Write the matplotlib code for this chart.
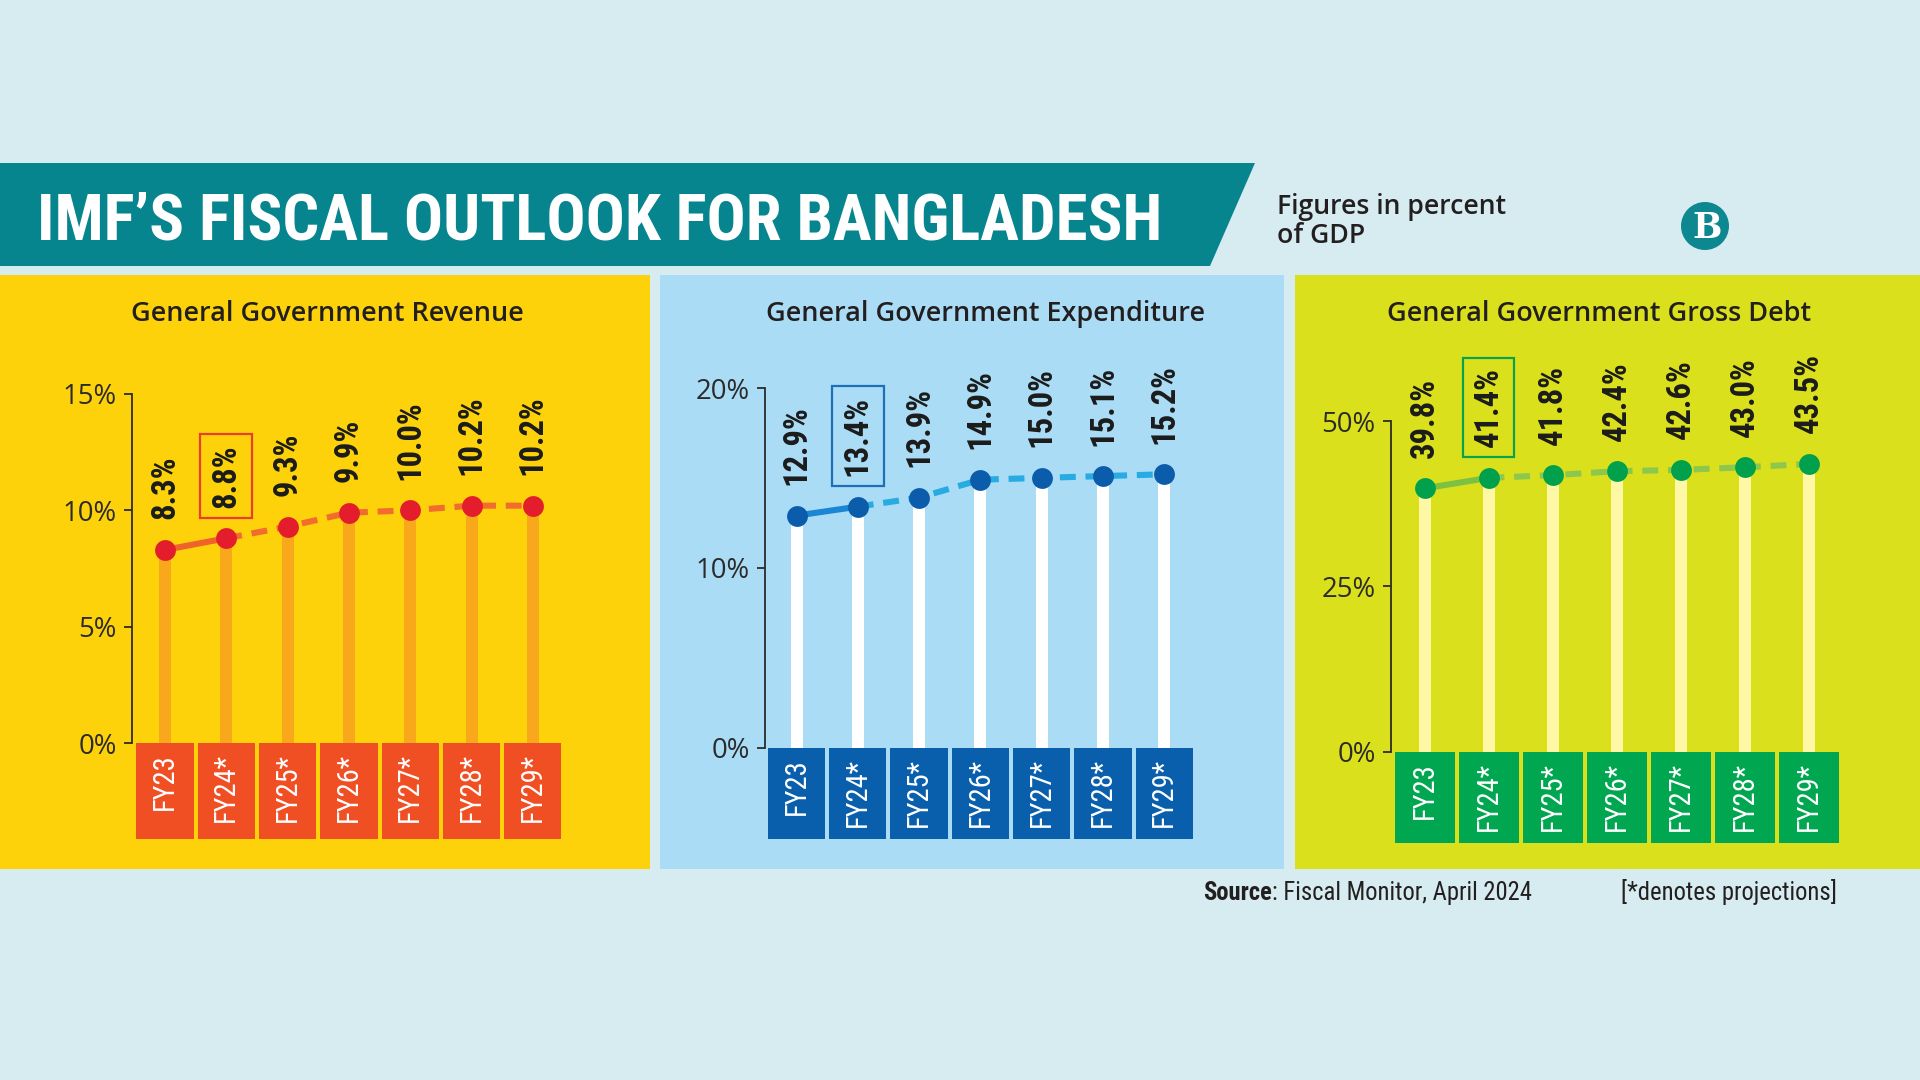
import os
import matplotlib
matplotlib.use('Agg')
import matplotlib.pyplot as plt
from matplotlib import font_manager as fm
from matplotlib.patches import Rectangle, Polygon, Circle

# ---------------- data ----------------
categories = ['FY23', 'FY24*', 'FY25*', 'FY26*', 'FY27*', 'FY28*', 'FY29*']
revenue = [8.3, 8.8, 9.3, 9.9, 10.0, 10.2, 10.2]
expenditure = [12.9, 13.4, 13.9, 14.9, 15.0, 15.1, 15.2]
gross_debt = [39.8, 41.4, 41.8, 42.4, 42.6, 43.0, 43.5]
revenue_ticks = [0, 5, 10, 15]
expenditure_ticks = [0, 10, 20]
debt_ticks = [0, 25, 50]
panel_titles = ['General Government Revenue',
                'General Government Expenditure',
                'General Government Gross Debt']
highlight_index = 1  # FY24* (current year)
title = 'IMF\u2019S FISCAL OUTLOOK FOR BANGLADESH'
subtitle_lines = ['Figures in percent', 'of GDP']
source_bold = 'Source'
source_rest = ': Fiscal Monitor, April 2024'
note = '[*denotes projections]'

# ---------------- figure ----------------
W, H = 1920, 1080
fig = plt.figure(figsize=(W / 100, H / 100), dpi=100)
fig.patch.set_facecolor('#d6ecf1')
renderer = fig.canvas.get_renderer()

_files = {os.path.basename(f.fname).lower(): f.fname for f in fm.fontManager.ttflist}


def font(candidates, family, weight='normal'):
    for c in candidates:
        if c.lower() in _files:
            return fm.FontProperties(fname=_files[c.lower()])
    return fm.FontProperties(family=family, weight=weight)


narrow_bold = font(['RobotoCondensed-Bold.ttf', 'LiberationSansNarrow-Bold.ttf',
                    'DejaVuSansCondensed-Bold.ttf'], 'Roboto', 'bold')
narrow_reg = font(['RobotoCondensed-Regular.ttf', 'LiberationSansNarrow-Regular.ttf',
                   'DejaVuSansCondensed.ttf'], 'Roboto', 'normal')
semi = font(['NotoSans-SemiBold.ttf', 'OpenSans-SemiBold.ttf', 'Lato-Semibold.ttf',
             'Lato-Bold.ttf', 'NotoSans-Bold.ttf', 'OpenSans-Bold.ttf', 'Roboto-Medium.ttf',
             'Roboto-Bold.ttf'], 'DejaVu Sans', 'bold')
regular = font(['NotoSans-Regular.ttf', 'OpenSans-Regular.ttf', 'Lato-Regular.ttf'],
               'DejaVu Sans', 'normal')
heavy = font(['RobotoCondensed-Bold.ttf', 'NotoSans-Bold.ttf', 'OpenSans-Bold.ttf',
              'Lato-Bold.ttf', 'Roboto-Bold.ttf'], 'DejaVu Sans', 'bold')


def sized(prop, text, target_px):
    p = prop.copy()
    p.set_size(20)
    t = fig.text(0, 0, text, fontproperties=p)
    w = t.get_window_extent(renderer=renderer).width
    t.remove()
    p.set_size(20 * target_px / w)
    return p


DARK = '#231f20'

# ---------------- background layer (pixel coordinates) ----------------
bg = fig.add_axes([0, 0, 1, 1], zorder=0)
bg.set_xlim(0, W)
bg.set_ylim(H, 0)
bg.axis('off')

bg.add_patch(Polygon([(0, 163), (1255, 163), (1210, 266), (0, 266)], closed=True,
                     fc='#07858e', ec='none'))
bg.text(37, 240, title, fontproperties=sized(heavy, title, 1126), color='white',
        ha='left', va='baseline')

sub_prop = sized(semi, subtitle_lines[0], 230)
bg.text(1277, 214, subtitle_lines[0], fontproperties=sub_prop, color=DARK, ha='left', va='baseline')
bg.text(1277, 243, subtitle_lines[1], fontproperties=sub_prop, color=DARK, ha='left', va='baseline')

# logo
bg.add_patch(Circle((1705, 226), 24, fc='#0d8891', ec='none'))
bg.text(1707, 228, 'B', family='DejaVu Serif', weight='bold', fontsize=25, color='white',
        ha='center', va='center')

panel_colors = ['#fed20b', '#aadcf6', '#dbe01d']
panel_x = [(0, 650), (660, 1284), (1295, 1920)]
for (x1, x2), c in zip(panel_x, panel_colors):
    bg.add_patch(Rectangle((x1, 275), x2 - x1, 869 - 275, fc=c, ec='none'))

title_prop = sized(semi, panel_titles[0], 391)
for cx, t in zip([327, 985, 1599], panel_titles):
    bg.text(cx, 321, t, fontproperties=title_prop, color=DARK, ha='center', va='baseline')

# footer
foot_reg = sized(narrow_reg, source_bold + source_rest, 328)
foot_bold = narrow_bold.copy()
foot_bold.set_size(foot_reg.get_size())
st = bg.text(1203, 900, source_bold, fontproperties=foot_bold, color=DARK, ha='left', va='baseline')
bg.annotate(source_rest, xy=(1, 0), xycoords=st, fontproperties=foot_reg, color=DARK,
            ha='left', va='bottom')
bg.text(1621, 900, note, fontproperties=foot_reg, color=DARK, ha='left', va='baseline')

# ---------------- chart panels ----------------
value_prop = sized(narrow_bold, '43.5%', 80)
cat_prop = sized(narrow_reg, 'FY24*', 69)
tick_prop = sized(regular, '20%', 54)


def panel(values, ticks, geom, sty):
    spine_x, x0, dx, y0, ytop, ymax, box_bottom = geom
    right_x = x0 + 6.8 * dx
    ppu = (y0 - ytop) / ymax
    ax = fig.add_axes([spine_x / W, 1 - box_bottom / H,
                       (right_x - spine_x) / W, (box_bottom - ytop) / H], zorder=2)
    ax.patch.set_visible(False)
    ax.set_xlim((spine_x - x0) / dx, (right_x - x0) / dx)
    ymin = -(box_bottom - y0) / ppu
    ax.set_ylim(ymin, ymax)
    xs = list(range(len(categories)))

    # category boxes below zero
    ax.bar(xs, [ymin] * len(xs), bottom=0, width=(dx - 4) / dx, color=sty['box'],
           edgecolor='none', zorder=1)
    # stems
    ax.bar(xs, values, width=12 / dx, color=sty['stem'], edgecolor='none', zorder=2)
    # line: solid for actual, dashed for projections
    ax.plot(xs[:2], values[:2], color=sty['solid'], lw=4.4, solid_capstyle='round', zorder=3)
    ax.plot(xs[1:], values[1:], color=sty['dash'], lw=4.4, dashes=(2.6, 1.6), zorder=3)
    ax.plot(xs, values, 'o', ms=15, color=sty['marker'], mec='none', zorder=4)

    for i, v in enumerate(values):
        kw = {}
        if i == highlight_index:
            kw['bbox'] = dict(boxstyle='square,pad=0.3', fc='none', ec=sty['hl'], lw=1.6)
        ax.annotate(f'{v:.1f}%', xy=(i, v), xytext=(0, 22), textcoords='offset points',
                    rotation=90, rotation_mode='anchor', ha='left', va='center',
                    fontproperties=value_prop, color='#1b1b1b', zorder=5, **kw)
        ax.annotate(categories[i], xy=(i, 0), xytext=(0, -7.5), textcoords='offset points',
                    rotation=90, rotation_mode='anchor', ha='right', va='center',
                    fontproperties=cat_prop, color='white', zorder=5)

    for s in ['top', 'right', 'bottom']:
        ax.spines[s].set_visible(False)
    ax.spines['left'].set_bounds(0, ymax)
    ax.spines['left'].set_color('#2b2b2b')
    ax.spines['left'].set_linewidth(1.3)
    ax.set_xticks([])
    ax.set_yticks(ticks, labels=[f'{t}%' for t in ticks], fontproperties=tick_prop)
    ax.tick_params(axis='y', direction='out', length=6, width=1.3, color='#2b2b2b',
                   pad=5, labelcolor='#2b2b2b')
    return ax


panel(revenue, revenue_ticks,
      (132, 165, 61.3, 743, 394, 15, 839),
      dict(box='#f04e23', stem='#f9a81c', solid='#ef6229', dash='#f26c2e',
           marker='#e31d2b', hl='#e8402a'))
panel(expenditure, expenditure_ticks,
      (765, 796.5, 61.3, 747.5, 388, 20, 839),
      dict(box='#0a5fac', stem='#ffffff', solid='#1b87d4', dash='#28abe3',
           marker='#0b5cab', hl='#1f6fb8'))
panel(gross_debt, debt_ticks,
      (1391, 1424.5, 64, 751.5, 421, 50, 843),
      dict(box='#00a650', stem='#fef7a6', solid='#7cc142', dash='#8dc74c',
           marker='#00a04c', hl='#0aa24d'))

fig.savefig('out.png', dpi=100, facecolor=fig.get_facecolor())
